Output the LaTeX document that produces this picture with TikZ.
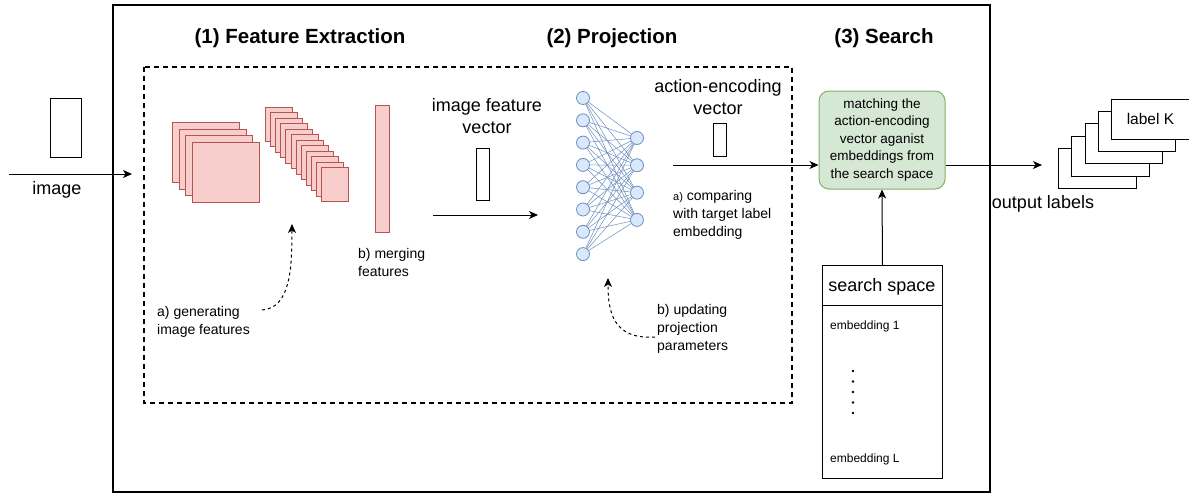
\documentclass[tikz,border=0pt]{standalone}
\usepackage{fontspec}
\setmainfont{Liberation Sans}
\usetikzlibrary{arrows.meta}
\definecolor{pinkfill}{HTML}{F8CECC}
\definecolor{pinkline}{HTML}{B85450}
\definecolor{bluefill}{HTML}{DAE8FC}
\definecolor{blueline}{HTML}{6C8EBF}
\definecolor{greenfill}{HTML}{D5E8D4}
\definecolor{greenline}{HTML}{82B366}
\tikzset{
  fmap/.style={draw=pinkline, fill=pinkfill, line width=0.9pt, inner sep=0, anchor=north west},
  conn/.style={line width=1pt, -{Stealth[length=9pt,width=8pt,inset=2.5pt]}},
  dconn/.style={conn, dash pattern=on 3pt off 3pt},
  lbl/.style={font=\fontsize{14}{18}\selectfont, align=left, inner sep=0},
  biglbl/.style={font=\fontsize{18}{22}\selectfont, align=center, inner sep=0},
  smalllbl/.style={font=\fontsize{12}{14}\selectfont, inner sep=0},
  ttl/.style={font=\fontsize{20.5}{24}\selectfont\bfseries, inner sep=0},
  neuron/.style={circle, draw=blueline, fill=bluefill, minimum size=13pt, inner sep=0, line width=0.8pt},
  nnedge/.style={draw=blueline, line width=0.5pt},
  vecbox/.style={draw=black, line width=1pt, fill=white, inner sep=0, anchor=north west},
  outbox/.style={draw=black, line width=1pt, fill=white, inner sep=0, anchor=north west, minimum width=77.5pt, minimum height=40pt},
}
\begin{document}
\begin{tikzpicture}[x=1pt,y=-1pt]
\useasboundingbox (0,0) rectangle (1189,495);
\fill[white] (0,0) rectangle (1189,495);

% frames
\draw[line width=2pt] (113,5) rectangle (990,492);
\draw[line width=2pt, dash pattern=on 5pt off 4pt] (144,67) rectangle (792,403);

% titles
\node[ttl] (t1) at (300,38) {(1) Feature Extraction};
\node[ttl] (t2) at (612,38) {(2) Projection};
\node[ttl] (t3) at (884,38) {(3) Search};

% input image
\node[vecbox, minimum width=31pt, minimum height=59pt] (img) at (50,98) {};
\coordinate (inA) at (9,174);
\coordinate (inB) at (132,174);
\draw[conn] (inA) -- (inB);
\node[biglbl] (imglbl) at (57,190) {image};

% feature maps (big)
\foreach \i in {0,...,3}
  \node[fmap, minimum width=67pt, minimum height=60pt] (fb\i) at ({172+6.67*\i},{122+6.67*\i}) {};
% feature maps (small)
\foreach \i in {0,...,11}
  \node[fmap, minimum width=27pt, minimum height=34pt] (fs\i) at ({265+5.1*\i},{107+5.45*\i}) {};
% merged bar
\node[fmap, minimum width=14pt, minimum height=127pt] (bar) at (375,105) {};

\node[lbl, anchor=west] (merge) at (358,262) {b) merging\\features};
\node[lbl, anchor=west] (gen) at (157,322) {a) generating\\image features};
\coordinate (genA) at (262,310);
\coordinate (genB) at (292,224);
\draw[dconn] (genA) .. controls (290,308) and (292,270) .. (genB);

% image feature vector
\node[biglbl] (ifvlbl) at (487,116) {image feature\\vector};
\node[vecbox, minimum width=13pt, minimum height=52pt] (ivec) at (476,148) {};
\coordinate (pA) at (433,215);
\coordinate (pB) at (538,215);
\draw[conn] (pA) -- (pB);

% neural network
\foreach \i in {1,...,8}
  \node[neuron] (L\i) at (583,{98+22.3*(\i-1)}) {};
\foreach \j in {1,...,4}
  \node[neuron] (R\j) at (637,{138+27.3*(\j-1)}) {};
\foreach \i in {1,...,8}
  \foreach \j in {1,...,4}
    \draw[nnedge] (L\i) -- (R\j);

% action-encoding vector
\node[biglbl] (aevlbl) at (718,97) {action-encoding\\vector};
\node[vecbox, minimum width=13pt, minimum height=33pt] (aev) at (713,123) {};

\node[lbl, anchor=west] (cmp) at (673,215) {{\fontsize{11}{18}\selectfont a)} comparing\\with target label\\embedding};
\node[lbl, anchor=west] (upd) at (657,329) {b) updating\\projection\\parameters};
\coordinate (uA) at (655,337);
\coordinate (uB) at (608,278);
\draw[dconn] (uA) .. controls (612,340) and (608,310) .. (uB);

% matching box
\node[draw=greenline, fill=greenfill, line width=1pt, rounded corners=10pt,
      minimum width=126pt, minimum height=98pt, inner sep=0, align=center,
      font=\fontsize{13.5}{17.5}\selectfont] (match) at (882,140)
  {matching the\\action-encoding\\vector aganist\\embeddings from\\the search space};
\coordinate (aA) at (673,165);
\draw[conn] (aA) -- (aA -| match.west);

% output labels
\foreach \k in {0,...,4}
  \node[outbox] (o\k) at ({1058+13.3*\k},{148-12.3*\k}) {};
\node[font=\fontsize{15.5}{18}\selectfont, inner sep=0] (lk) at (o4.center) {label K};
\coordinate (oB) at (1042,165);
\draw[conn] (match.east |- oB) -- (oB);
\node[biglbl] (outlbl) at (1043,204) {output labels};

% search space
\node[draw=black, line width=1pt, fill=white, inner sep=0, anchor=north west,
      minimum width=120pt, minimum height=213pt] (ss) at (822,265) {};
\draw[line width=1pt] (822,305) -- (942,305);
\node[biglbl] (sslbl) at (882,287) {search space};
\node[smalllbl, anchor=west] (e1) at (830,326) {embedding 1};
\node[smalllbl, anchor=west] (eL) at (830,459) {embedding L};
\foreach \d in {0,...,4}
  \fill (853,{371+10.5*\d}) circle (1.3pt);
\draw[conn] (ss.north) -- (match.south);
\end{tikzpicture}
\end{document}
